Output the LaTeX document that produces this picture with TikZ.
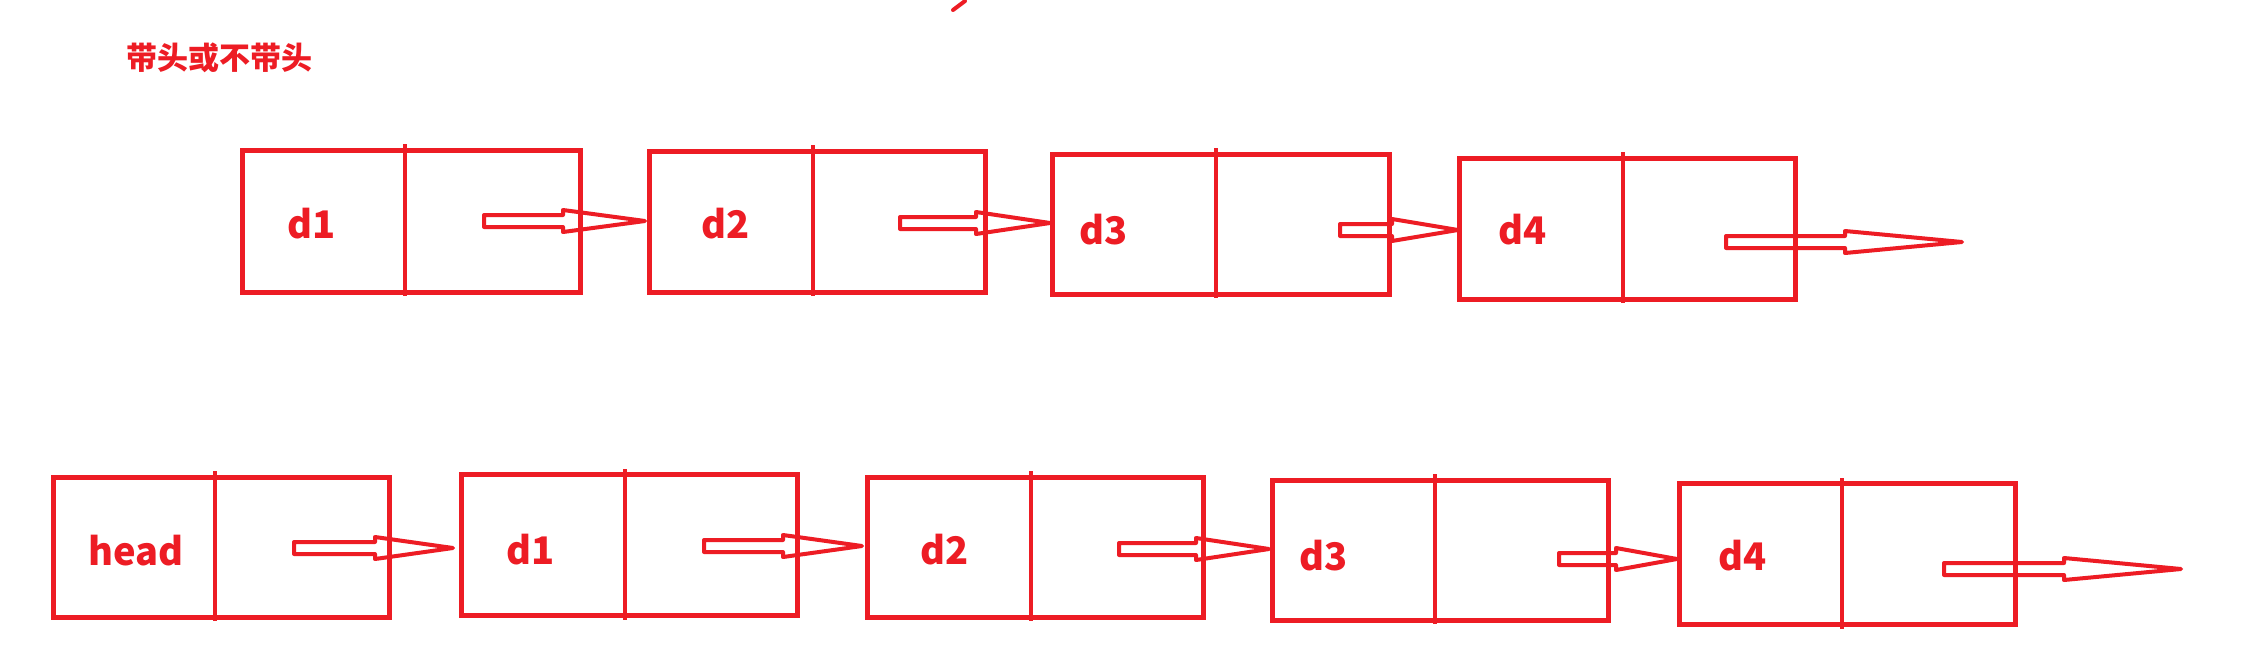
\documentclass[tikz,border=0pt]{standalone}
\usepackage{fontspec}
\newfontfamily\cjk{Noto Sans CJK SC}
\definecolor{pred}{HTML}{ED1C24}
\newcommand{\hollowarr}[4]{% x0, y, xhead, xtip
  \draw[arrline] (#1,#2-6) -- (#3,#2-6) -- (#3,#2-11) -- (#4,#2) -- (#3,#2+11) -- (#3,#2+6) -- (#1,#2+6) -- cycle;}
\begin{document}
\begin{tikzpicture}[x=1pt,y=-1pt,
  box/.style={draw=pred,line width=5pt,rectangle,inner sep=0pt},
  divider/.style={draw=pred,line width=3.6pt},
  arrline/.style={draw=pred,line width=4pt,line join=round},
  lbl/.style={text=pred,font=\cjk\bfseries\fontsize{38}{38}\selectfont,inner sep=0pt},
  title/.style={text=pred,font=\cjk\bfseries\fontsize{31}{31}\selectfont,inner sep=0pt}]
\useasboundingbox (0,0) rectangle (2252,665);
\fill[white] (0,0) rectangle (2252,665);
% stray mark
\draw[pred,line width=4pt,line cap=round] (953,10) -- (965,1);
% title
\node[title] (ttl) at (219,58) {带头或不带头};
% top row boxes
\node[box,minimum width=338,minimum height=142] (t1) at (411,221) {};
\node[box,minimum width=336,minimum height=141] (t2) at (817,222) {};
\node[box,minimum width=337,minimum height=140] (t3) at (1221,224) {};
\node[box,minimum width=336,minimum height=141] (t4) at (1627,229) {};
\draw[divider] (405,144) -- (405,296);
\draw[divider] (813,145) -- (813,296);
\draw[divider] (1216,148) -- (1216,298);
\draw[divider] (1623,152) -- (1623,303);
\node[lbl] (l1) at (312,224) {d1};
\node[lbl] (l2) at (726,224) {d2};
\node[lbl] (l3) at (1104,230) {d3};
\node[lbl] (l4) at (1523,230) {d4};
\hollowarr{484}{221}{563}{645}
\hollowarr{900}{223}{976}{1050}
\hollowarr{1340}{230}{1392}{1458}
\hollowarr{1726}{242}{1845}{1962}
% bottom row boxes
\node[box,minimum width=336,minimum height=140] (b0) at (221,547) {};
\node[box,minimum width=336,minimum height=141] (b1) at (629,545) {};
\node[box,minimum width=336,minimum height=140] (b2) at (1035,547) {};
\node[box,minimum width=336,minimum height=140] (b3) at (1440,550) {};
\node[box,minimum width=336,minimum height=141] (b4) at (1847,554) {};
\draw[divider] (215,471) -- (215,621);
\draw[divider] (625,469) -- (625,620);
\draw[divider] (1031,471) -- (1031,621);
\draw[divider] (1435,474) -- (1435,624);
\draw[divider] (1842,478) -- (1842,629);
\node[lbl] (m0) at (136,551) {head};
\node[lbl] (m1) at (531,550) {d1};
\node[lbl] (m2) at (945,550) {d2};
\node[lbl] (m3) at (1324,556) {d3};
\node[lbl] (m4) at (1743,556) {d4};
\hollowarr{294}{548}{375}{453}
\hollowarr{704}{546}{783}{862}
\hollowarr{1119}{549}{1196}{1269}
\hollowarr{1559}{559}{1616}{1677}
\hollowarr{1944}{569}{2064}{2181}
\end{tikzpicture}
\end{document}
